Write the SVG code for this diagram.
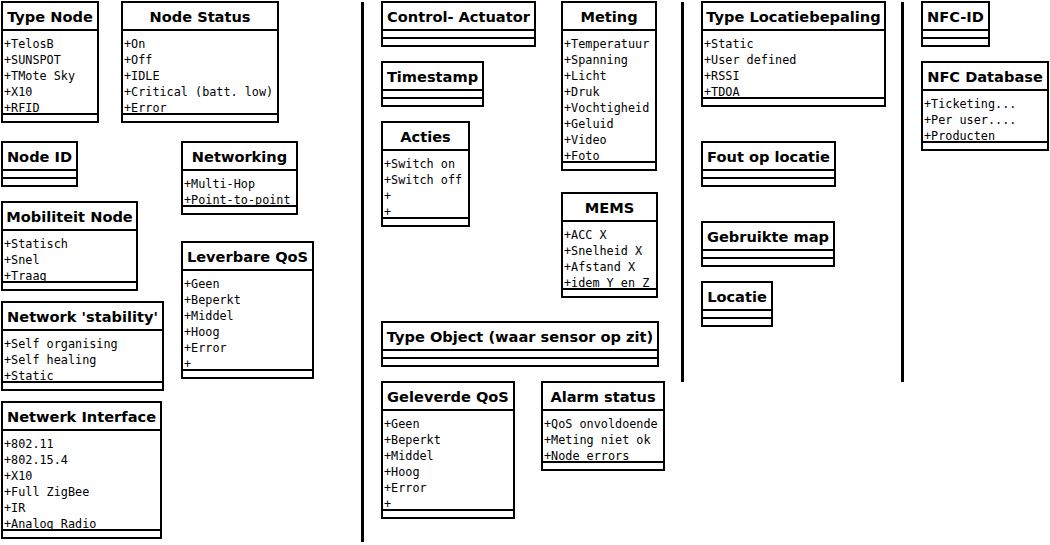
<svg xmlns="http://www.w3.org/2000/svg" width="1050" height="545" viewBox="0 0 1050 545">
<style>
.box{fill:#fff;stroke:#000;stroke-width:2}
.sep{stroke:#000;stroke-width:2}
.t{font-family:"DejaVu Sans","Liberation Sans",sans-serif;font-weight:bold;font-size:14.6px;text-anchor:middle;fill:#000}
.a{font-family:"DejaVu Sans Mono","Liberation Mono",monospace;font-size:11.8px;fill:#000}
.div{stroke:#000;stroke-width:3}
</style>
<rect width="1050" height="545" fill="#fff"/>
<g id="connectors">
<line class="div" x1="362.5" y1="2" x2="362.5" y2="542"/>
<line class="div" x1="682.5" y1="2" x2="682.5" y2="382"/>
<line class="div" x1="902.5" y1="2" x2="902.5" y2="382"/>
</g>
<g id="typeNode">
<rect class="box" x="2" y="2" width="96" height="120"/>
<line class="sep" x1="2" y1="30" x2="98" y2="30"/><line class="sep" x1="2" y1="114" x2="98" y2="114"/>
<text class="t" x="50" y="22">Type Node</text>
<text class="a" x="4" y="48">+TelosB</text><text class="a" x="4" y="64">+SUNSPOT</text><text class="a" x="4" y="80">+TMote Sky</text><text class="a" x="4" y="96">+X10</text><text class="a" x="4" y="112">+RFID</text>
</g>
<g id="nodeStatus">
<rect class="box" x="122" y="2" width="156" height="120"/>
<line class="sep" x1="122" y1="30" x2="278" y2="30"/><line class="sep" x1="122" y1="114" x2="278" y2="114"/>
<text class="t" x="200" y="22">Node Status</text>
<text class="a" x="124" y="48">+On</text><text class="a" x="124" y="64">+Off</text><text class="a" x="124" y="80">+IDLE</text><text class="a" x="124" y="96">+Critical (batt. low)</text><text class="a" x="124" y="112">+Error</text>
</g>
<g id="nodeId">
<rect class="box" x="2" y="142" width="75" height="44"/>
<line class="sep" x1="2" y1="170" x2="77" y2="170"/><line class="sep" x1="2" y1="178" x2="77" y2="178"/>
<text class="t" x="39.5" y="162">Node ID</text>
</g>
<g id="networking">
<rect class="box" x="182" y="142" width="115" height="72"/>
<line class="sep" x1="182" y1="170" x2="297" y2="170"/><line class="sep" x1="182" y1="206" x2="297" y2="206"/>
<text class="t" x="239.5" y="162">Networking</text>
<text class="a" x="184" y="188">+Multi-Hop</text><text class="a" x="184" y="204">+Point-to-point</text>
</g>
<g id="mobiliteitNode">
<rect class="box" x="2" y="202" width="135" height="88"/>
<line class="sep" x1="2" y1="230" x2="137" y2="230"/><line class="sep" x1="2" y1="282" x2="137" y2="282"/>
<text class="t" x="69.5" y="222">Mobiliteit Node</text>
<text class="a" x="4" y="248">+Statisch</text><text class="a" x="4" y="264">+Snel</text><text class="a" x="4" y="280">+Traag</text>
</g>
<g id="networkStability">
<rect class="box" x="2" y="302" width="161" height="88"/>
<line class="sep" x1="2" y1="330" x2="163" y2="330"/><line class="sep" x1="2" y1="382" x2="163" y2="382"/>
<text class="t" x="82.5" y="322">Network 'stability'</text>
<text class="a" x="4" y="348">+Self organising</text><text class="a" x="4" y="364">+Self healing</text><text class="a" x="4" y="380">+Static</text>
</g>
<g id="leverbareQoS">
<rect class="box" x="182" y="242" width="131" height="136"/>
<line class="sep" x1="182" y1="270" x2="313" y2="270"/><line class="sep" x1="182" y1="370" x2="313" y2="370"/>
<text class="t" x="247.5" y="262">Leverbare QoS</text>
<text class="a" x="184" y="288">+Geen</text><text class="a" x="184" y="304">+Beperkt</text><text class="a" x="184" y="320">+Middel</text><text class="a" x="184" y="336">+Hoog</text><text class="a" x="184" y="352">+Error</text><text class="a" x="184" y="368">+</text>
</g>
<g id="netwerkInterface">
<rect class="box" x="2" y="402" width="159" height="136"/>
<line class="sep" x1="2" y1="430" x2="161" y2="430"/><line class="sep" x1="2" y1="530" x2="161" y2="530"/>
<text class="t" x="81.5" y="422">Netwerk Interface</text>
<text class="a" x="4" y="448">+802.11</text><text class="a" x="4" y="464">+802.15.4</text><text class="a" x="4" y="480">+X10</text><text class="a" x="4" y="496">+Full ZigBee</text><text class="a" x="4" y="512">+IR</text><text class="a" x="4" y="528">+Analog Radio</text>
</g>
<g id="controlActuator">
<rect class="box" x="382" y="2" width="153" height="44"/>
<line class="sep" x1="382" y1="30" x2="535" y2="30"/><line class="sep" x1="382" y1="38" x2="535" y2="38"/>
<text class="t" x="458.5" y="22">Control- Actuator</text>
</g>
<g id="timestamp">
<rect class="box" x="382" y="62" width="101" height="44"/>
<line class="sep" x1="382" y1="90" x2="483" y2="90"/><line class="sep" x1="382" y1="98" x2="483" y2="98"/>
<text class="t" x="432.5" y="82">Timestamp</text>
</g>
<g id="acties">
<rect class="box" x="382" y="122" width="87" height="104"/>
<line class="sep" x1="382" y1="150" x2="469" y2="150"/><line class="sep" x1="382" y1="218" x2="469" y2="218"/>
<text class="t" x="425.5" y="142">Acties</text>
<text class="a" x="384" y="168">+Switch on</text><text class="a" x="384" y="184">+Switch off</text><text class="a" x="384" y="200">+</text><text class="a" x="384" y="216">+</text>
</g>
<g id="meting">
<rect class="box" x="562" y="2" width="94" height="168"/>
<line class="sep" x1="562" y1="30" x2="656" y2="30"/><line class="sep" x1="562" y1="162" x2="656" y2="162"/>
<text class="t" x="609" y="22">Meting</text>
<text class="a" x="564" y="48">+Temperatuur</text><text class="a" x="564" y="64">+Spanning</text><text class="a" x="564" y="80">+Licht</text><text class="a" x="564" y="96">+Druk</text><text class="a" x="564" y="112">+Vochtigheid</text><text class="a" x="564" y="128">+Geluid</text><text class="a" x="564" y="144">+Video</text><text class="a" x="564" y="160">+Foto</text>
</g>
<g id="mems">
<rect class="box" x="562" y="193" width="95" height="104"/>
<line class="sep" x1="562" y1="221" x2="657" y2="221"/><line class="sep" x1="562" y1="289" x2="657" y2="289"/>
<text class="t" x="609.5" y="213">MEMS</text>
<text class="a" x="564" y="239">+ACC X</text><text class="a" x="564" y="255">+Snelheid X</text><text class="a" x="564" y="271">+Afstand X</text><text class="a" x="564" y="287">+idem Y en Z</text>
</g>
<g id="typeObject">
<rect class="box" x="382" y="322" width="276" height="44"/>
<line class="sep" x1="382" y1="350" x2="658" y2="350"/><line class="sep" x1="382" y1="358" x2="658" y2="358"/>
<text class="t" x="520" y="342">Type Object (waar sensor op zit)</text>
</g>
<g id="geleverdeQoS">
<rect class="box" x="382" y="382" width="132" height="136"/>
<line class="sep" x1="382" y1="410" x2="514" y2="410"/><line class="sep" x1="382" y1="510" x2="514" y2="510"/>
<text class="t" x="448" y="402">Geleverde QoS</text>
<text class="a" x="384" y="428">+Geen</text><text class="a" x="384" y="444">+Beperkt</text><text class="a" x="384" y="460">+Middel</text><text class="a" x="384" y="476">+Hoog</text><text class="a" x="384" y="492">+Error</text><text class="a" x="384" y="508">+</text>
</g>
<g id="alarmStatus">
<rect class="box" x="542" y="382" width="122" height="88"/>
<line class="sep" x1="542" y1="410" x2="664" y2="410"/><line class="sep" x1="542" y1="462" x2="664" y2="462"/>
<text class="t" x="603" y="402">Alarm status</text>
<text class="a" x="544" y="428">+QoS onvoldoende</text><text class="a" x="544" y="444">+Meting niet ok</text><text class="a" x="544" y="460">+Node errors</text>
</g>
<g id="typeLocatiebepaling">
<rect class="box" x="702" y="2" width="183" height="104"/>
<line class="sep" x1="702" y1="30" x2="885" y2="30"/><line class="sep" x1="702" y1="98" x2="885" y2="98"/>
<text class="t" x="793.5" y="22">Type Locatiebepaling</text>
<text class="a" x="704" y="48">+Static</text><text class="a" x="704" y="64">+User defined</text><text class="a" x="704" y="80">+RSSI</text><text class="a" x="704" y="96">+TDOA</text>
</g>
<g id="foutOpLocatie">
<rect class="box" x="702" y="142" width="133" height="44"/>
<line class="sep" x1="702" y1="170" x2="835" y2="170"/><line class="sep" x1="702" y1="178" x2="835" y2="178"/>
<text class="t" x="768.5" y="162">Fout op locatie</text>
</g>
<g id="gebruikteMap">
<rect class="box" x="702" y="222" width="132" height="44"/>
<line class="sep" x1="702" y1="250" x2="834" y2="250"/><line class="sep" x1="702" y1="258" x2="834" y2="258"/>
<text class="t" x="768" y="242">Gebruikte map</text>
</g>
<g id="locatie">
<rect class="box" x="702" y="282" width="70" height="44"/>
<line class="sep" x1="702" y1="310" x2="772" y2="310"/><line class="sep" x1="702" y1="318" x2="772" y2="318"/>
<text class="t" x="737" y="302">Locatie</text>
</g>
<g id="nfcId">
<rect class="box" x="922" y="2" width="67" height="44"/>
<line class="sep" x1="922" y1="30" x2="989" y2="30"/><line class="sep" x1="922" y1="38" x2="989" y2="38"/>
<text class="t" x="955.5" y="22">NFC-ID</text>
</g>
<g id="nfcDatabase">
<rect class="box" x="922" y="62" width="126" height="88"/>
<line class="sep" x1="922" y1="90" x2="1048" y2="90"/><line class="sep" x1="922" y1="142" x2="1048" y2="142"/>
<text class="t" x="985" y="82">NFC Database</text>
<text class="a" x="924" y="108">+Ticketing...</text><text class="a" x="924" y="124">+Per user....</text><text class="a" x="924" y="140">+Producten</text>
</g>
</svg>
